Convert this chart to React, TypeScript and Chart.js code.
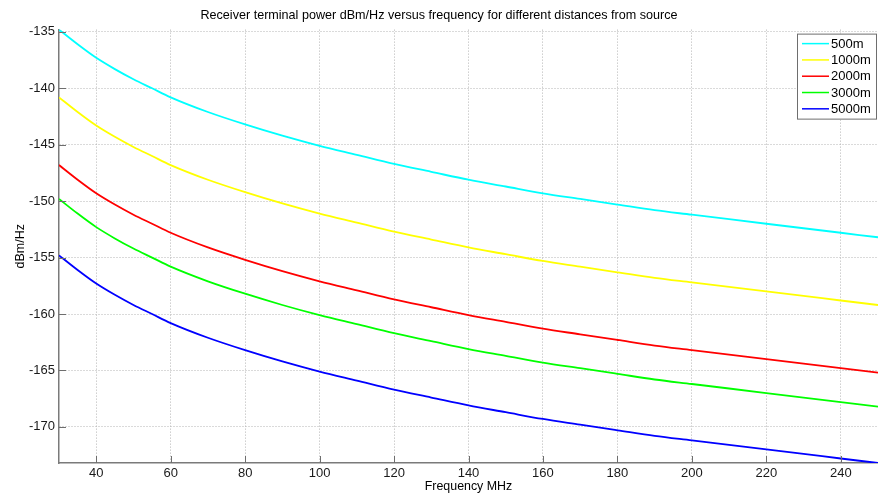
import React, { useEffect, useRef } from "react";
import { Chart, registerables } from "chart.js";

Chart.register(...registerables);

const freqMHz = [30, 35, 40, 45, 50, 55, 60, 70, 80, 90, 100, 110, 120, 130, 140, 150, 160, 170, 180, 190, 200, 210, 220, 230, 240, 250];

const p500m = [-134.8, -136.1, -137.3, -138.3, -139.2, -140.0, -140.8, -142.1, -143.2, -144.2, -145.1, -145.9, -146.7, -147.4, -148.1, -148.7, -149.3, -149.8, -150.3, -150.8, -151.2, -151.6, -152.0, -152.4, -152.8, -153.2];
const p1000m = [-140.8, -142.1, -143.3, -144.3, -145.2, -146.0, -146.8, -148.1, -149.2, -150.2, -151.1, -151.9, -152.7, -153.4, -154.1, -154.7, -155.3, -155.8, -156.3, -156.8, -157.2, -157.6, -158.0, -158.4, -158.8, -159.2];
const p2000m = [-146.8, -148.1, -149.3, -150.3, -151.2, -152.0, -152.8, -154.1, -155.2, -156.2, -157.1, -157.9, -158.7, -159.4, -160.1, -160.7, -161.3, -161.8, -162.3, -162.8, -163.2, -163.6, -164.0, -164.4, -164.8, -165.2];
const p3000m = [-149.8, -151.1, -152.3, -153.3, -154.2, -155.0, -155.8, -157.1, -158.2, -159.2, -160.1, -160.9, -161.7, -162.4, -163.1, -163.7, -164.3, -164.8, -165.3, -165.8, -166.2, -166.6, -167.0, -167.4, -167.8, -168.2];
const p5000m = [-154.8, -156.1, -157.3, -158.3, -159.2, -160.0, -160.8, -162.1, -163.2, -164.2, -165.1, -165.9, -166.7, -167.4, -168.1, -168.7, -169.3, -169.8, -170.3, -170.8, -171.2, -171.6, -172.0, -172.4, -172.8, -173.2];

const seriesLabels = ["500m", "1000m", "2000m", "3000m", "5000m"];
const seriesColors = ["#00ffff", "#ffff00", "#ff0000", "#00ff00", "#0000ff"];
const seriesValues = [p500m, p1000m, p2000m, p3000m, p5000m];

const xTicks = [40, 60, 80, 100, 120, 140, 160, 180, 200, 220, 240];
const yTicks = [-170, -165, -160, -155, -150, -145, -140, -135];

const FONT = "'Liberation Sans', Arial, Helvetica, sans-serif";

const innerTicks = {
  id: "innerTicks",
  afterDatasetsDraw(chart: any) {
    const { ctx, chartArea, scales } = chart;
    ctx.save();
    ctx.strokeStyle = "#6e6e6e";
    ctx.lineWidth = 1;
    ctx.beginPath();
    for (const v of xTicks) {
      const x = Math.round(scales.x.getPixelForValue(v)) + 0.5;
      ctx.moveTo(x, chartArea.bottom);
      ctx.lineTo(x, chartArea.bottom - 7);
    }
    for (const v of yTicks) {
      const y = Math.round(scales.y.getPixelForValue(v)) + 0.5;
      ctx.moveTo(chartArea.left, y);
      ctx.lineTo(chartArea.left + 7, y);
    }
    ctx.stroke();
    ctx.restore();
  },
};

const boxLegend = {
  id: "boxLegend",
  afterDatasetsDraw(chart: any) {
    const { ctx, chartArea } = chart;
    const right = chartArea.right - 1;
    const left = right - 80;
    const top = chartArea.top + 4;
    const rowH = 16.3;
    const n = chart.data.datasets.length;
    const bottom = top + 4 + rowH * n + 0.5;
    ctx.save();
    ctx.fillStyle = "#ffffff";
    ctx.fillRect(left, top, right - left, bottom - top);
    ctx.strokeStyle = "#6e6e6e";
    ctx.lineWidth = 1;
    ctx.strokeRect(left + 0.5, top + 0.5, right - left - 1, bottom - top - 1);
    ctx.font = `13px ${FONT}`;
    ctx.textBaseline = "middle";
    ctx.textAlign = "left";
    chart.data.datasets.forEach((ds: any, i: number) => {
      const y = top + 10 + i * rowH;
      ctx.strokeStyle = ds.borderColor;
      ctx.lineWidth = 1.5;
      ctx.beginPath();
      ctx.moveTo(left + 5, y);
      ctx.lineTo(left + 32, y);
      ctx.stroke();
      ctx.fillStyle = "#000000";
      ctx.fillText(ds.label, left + 34, y + 0.5);
    });
    ctx.restore();
  },
};

export default function App() {
  const canvasRef = useRef<HTMLCanvasElement | null>(null);

  useEffect(() => {
    document.body.style.margin = "0";
    const canvas = canvasRef.current;
    if (!canvas) return;
    const chart = new Chart(canvas, {
      type: "line",
      data: {
        datasets: seriesLabels.map((label, i) => ({
          label,
          data: freqMHz.map((f, j) => ({ x: f, y: seriesValues[i][j] })),
          borderColor: seriesColors[i],
          backgroundColor: seriesColors[i],
          borderWidth: 1.8,
          pointRadius: 0,
          cubicInterpolationMode: "monotone" as const,
          fill: false,
        })),
      },
      options: {
        animation: false,
        responsive: false,
        maintainAspectRatio: false,
        layout: { padding: { left: 0, right: 0, top: 0, bottom: 0 } },
        plugins: {
          legend: { display: false },
          tooltip: { enabled: false },
          title: {
            display: true,
            text: "Receiver terminal power dBm/Hz versus frequency for different distances from source",
            color: "#000000",
            font: { family: FONT, size: 12.6, weight: "normal" },
            padding: { top: 8, bottom: 6.5 },
          },
        },
        scales: {
          x: {
            type: "linear",
            min: 30,
            max: 250,
            afterBuildTicks: (scale: any) => {
              scale.ticks = xTicks.map((v) => ({ value: v }));
            },
            afterFit: (scale: any) => {
              scale.height = 32;
            },
            ticks: {
              color: "#1a1a1a",
              font: { family: FONT, size: 13 },
              padding: 3,
              maxRotation: 0,
              autoSkip: false,
            },
            grid: { color: "#b4b4b4", drawTicks: false, lineWidth: 1 },
            border: { display: true, color: "#7a7a7a", width: 1.5, dash: [1, 2] },
            title: {
              display: true,
              text: "Frequency MHz",
              color: "#000000",
              font: { family: FONT, size: 12.4 },
              padding: { top: 0, bottom: 1 },
            },
          },
          y: {
            type: "linear",
            min: -173.2,
            max: -134.8,
            afterBuildTicks: (scale: any) => {
              scale.ticks = yTicks.map((v) => ({ value: v }));
            },
            afterFit: (scale: any) => {
              scale.width = 59;
            },
            ticks: {
              color: "#1a1a1a",
              font: { family: FONT, size: 13 },
              padding: 4,
              autoSkip: false,
            },
            grid: { color: "#b4b4b4", drawTicks: false, lineWidth: 1 },
            border: { display: true, color: "#7a7a7a", width: 1.5, dash: [1, 2] },
            title: {
              display: true,
              text: "dBm/Hz",
              color: "#000000",
              font: { family: FONT, size: 12.5 },
              padding: { top: 13, bottom: 0 },
            },
          },
        },
      },
      plugins: [innerTicks, boxLegend],
    });
    return () => chart.destroy();
  }, []);

  return (
    <div style={{ position: "absolute", left: 0, top: 0, width: 878, height: 495, background: "#ffffff" }}>
      <canvas ref={canvasRef} width={878} height={495} style={{ width: 878, height: 495 }} />
    </div>
  );
}
